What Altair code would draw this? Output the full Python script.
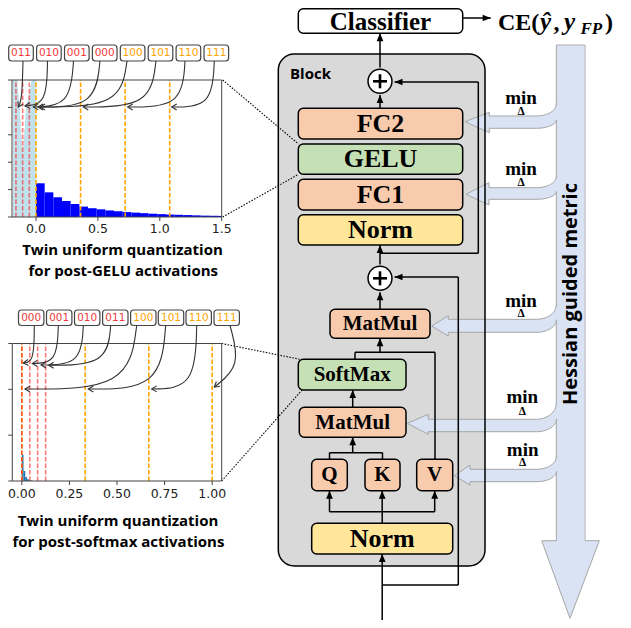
import math
import altair as alt
import numpy as np
import pandas as pd

# ======================= DATA =======================
# post-GELU activations: negative part (light blue), bins of 0.005 from -0.185
gelu_neg_start = -0.185
gelu_neg_width = 0.005
gelu_neg_density = [30, 14, 9, 7, 6, 5.4, 5.0, 4.7, 4.5, 4.3, 4.0, 3.6, 3.2, 2.9,
                    2.6, 2.45, 2.6, 2.9, 3.2, 3.5, 3.75, 3.95, 4.1, 4.25, 4.4, 4.5,
                    4.6, 4.7, 4.8, 4.95, 5.6, 6.5, 8, 10, 13, 18, 30]
# positive part (blue), bins of 0.07 from 0
gelu_pos_start = 0.0
gelu_pos_width = 0.07
gelu_pos_density = [1.23, 0.90, 0.72, 0.58, 0.47, 0.38, 0.32, 0.28, 0.24, 0.21, 0.18,
                    0.16, 0.14, 0.12, 0.105, 0.09, 0.08, 0.07, 0.06, 0.05, 0.045, 0.04]
gelu_levels_neg = [-0.162, -0.108, -0.054]
gelu_levels_pos = [0.0, 0.36, 0.72, 1.08]
gelu_xtick_values = [0.0, 0.5, 1.0, 1.5]
gelu_xtick_labels = ["0.0", "0.5", "1.0", "1.5"]
gelu_ytick_values = [0, 1, 2, 3, 4, 5]
gelu_domain_x = [-0.194, 1.5]
gelu_domain_y = [0, 5]
gelu_codes = ["011", "010", "001", "000", "100", "101", "110", "111"]
gelu_code_group = ["neg", "neg", "neg", "neg", "pos", "pos", "pos", "pos"]

# post-softmax activations, bins of 0.009 from 0
softmax_start = 0.0
softmax_width = 0.009
softmax_density = [0.57, 0.22, 0.09, 0.04, 0.02, 0.01]
softmax_levels_low = [0.0, 0.042, 0.083, 0.125]
softmax_levels_high = [0.0, 0.333, 0.667, 1.0]
softmax_xtick_values = [0.0, 0.25, 0.5, 0.75, 1.0]
softmax_xtick_labels = ["0.00", "0.25", "0.50", "0.75", "1.00"]
softmax_ytick_values = [0, 1, 2, 3]
softmax_domain_x = [-0.05, 1.05]
softmax_domain_y = [0, 3]
softmax_codes = ["000", "001", "010", "011", "100", "101", "110", "111"]
softmax_code_group = ["neg", "neg", "neg", "neg", "pos", "pos", "pos", "pos"]

module_labels = ["Classifier", "FC2", "GELU", "FC1", "Norm", "MatMul", "SoftMax",
                 "MatMul", "Q", "K", "V", "Norm"]
module_kind = ["out", "linear", "act", "linear", "norm", "linear", "act", "linear",
               "linear", "linear", "linear", "norm"]
caption_lines = ["Twin uniform quantization", "for post-GELU activations",
                 "Twin uniform quantization", "for post-softmax activations"]

# ======================= LAYOUT (pixel positions of the drawing) ===========
M = 8
W, H = 615, 612
PX = alt.Scale(domain=[0, 631], range=[-M, 631 - M], nice=False, zero=False)
PY = alt.Scale(domain=[0, 628], range=[-M, 628 - M], nice=False, zero=False)

TX = alt.Scale(domain=gelu_domain_x, range=[12 - M, 221.7 - M], nice=False, zero=False, clamp=True)
TY = alt.Scale(domain=gelu_domain_y, range=[217 - M, 80 - M], nice=False, zero=False, clamp=True)
BX = alt.Scale(domain=softmax_domain_x, range=[12.3 - M, 221.7 - M], nice=False, zero=False, clamp=True)
BY = alt.Scale(domain=softmax_domain_y, range=[481 - M, 343.5 - M], nice=False, zero=False, clamp=True)

KIND_FILL = {"out": "#ffffff", "linear": "#f8cbad", "act": "#c5e0b4", "norm": "#ffe699"}
HB_FILL = "#dae3f3"
HB_STROKE = "#a6a6a6"
RED = "#ff2020"
ORANGE = "#ffa500"

box_layout = [  # x0, x1, y0, y1, font size, text y
    (298.3, 462.7, 8.8, 33.3, 25, 21.5),
    (298.3, 462.7, 108.3, 139.0, 26, 123.9),
    (298.3, 462.7, 144.0, 174.3, 26, 159.4),
    (298.3, 462.7, 179.3, 210.0, 26, 194.9),
    (298.3, 462.7, 214.7, 245.0, 26, 230.1),
    (330.0, 430.0, 309.3, 338.3, 21, 324.0),
    (298.3, 406.0, 359.3, 390.0, 21, 374.9),
    (299.3, 406.0, 407.3, 437.3, 21, 422.5),
    (311.7, 347.3, 459.3, 490.7, 21, 475.2),
    (365.0, 400.0, 459.3, 490.7, 21, 475.2),
    (416.7, 452.7, 459.3, 490.7, 21, 475.2),
    (311.7, 452.7, 523.3, 554.0, 26, 538.9),
]

connectors = [
    (380, 67.5, 380, 33.3), (462.7, 18, 490.7, 18), (380, 108.3, 380, 95),
    (478.3, 82, 394.5, 82), (478.3, 82, 478.3, 253.3), (380, 253.3, 478.3, 253.3),
    (380, 264.5, 380, 245), (380, 309.3, 380, 292.3), (458.3, 277, 394.5, 277),
    (458.3, 277, 458.3, 585), (382.2, 585, 458.3, 585), (382.2, 628, 382.2, 554),
    (382.2, 523.3, 382.2, 511.7), (329.5, 511.7, 434.7, 511.7),
    (329.5, 511.7, 329.5, 490.7), (382.2, 511.7, 382.2, 490.7), (434.7, 511.7, 434.7, 490.7),
    (329.5, 459.3, 329.5, 452.7), (382.5, 459.3, 382.5, 452.7), (329.5, 452.7, 382.5, 452.7),
    (352.7, 452.7, 352.7, 437.3), (352.7, 407.3, 352.7, 390), (355, 359.3, 355, 352.3),
    (355, 352.3, 435, 352.3), (435, 352.3, 435, 459.3), (380, 352.3, 380, 338.3),
]
arrow_heads = [  # tip x, tip y, angle (0 = up)
    (380, 33.3, 0), (490.7, 18, 90), (380, 95, 0), (394.5, 82, 270), (380, 245, 0),
    (380, 292.3, 0), (394.5, 277, 270), (380, 338.3, 0), (352.7, 390, 0),
    (352.7, 437.3, 0), (329.5, 490.7, 0), (382.2, 490.7, 0), (434.7, 490.7, 0),
    (382.2, 554, 0),
]
plus_centers = [(380, 81.3), (380, 278.3)]
plus_r = 13.5
plus_arm = 7

hess_arrows = [  # tip x, tip y, head top, head bottom, base x, shaft top, shaft bottom, join top, join bottom
    (465.0, 121.7, 112.3, 132.7, 489.3, 116.0, 128.3, 104.0, 120.0),
    (466.0, 194.3, 182.7, 205.0, 489.0, 187.7, 199.3, 176.7, 191.7),
    (431.7, 326.0, 315.7, 336.0, 448.3, 319.3, 332.3, 305.0, 320.0),
    (407.3, 423.3, 414.3, 434.3, 428.3, 419.3, 431.7, 403.3, 419.3),
    (454.3, 475.7, 465.0, 485.0, 470.0, 469.3, 481.7, 456.7, 471.7),
]
band_left, band_right, band_top, band_end = 556.3, 585.0, 45.0, 540.7
band_head = (541.7, 599.3, 570.0, 618.3)
min_pos = [(521, 104, 114.5), (521, 175, 186), (521, 306.7, 317.3), (522.3, 403.3, 415), (522.7, 455.7, 466)]

dotted = [(222.7, 80, 298.5, 144), (222.7, 217, 298.5, 174.3),
          (221.7, 343.5, 300, 359.3), (221.7, 481, 302, 390)]

top_box_cx = [21.0, 48.9, 76.8, 104.7, 132.6, 160.5, 188.4, 216.3]
top_box_y = (45, 61)
top_half_w = 12.3
bot_box_cx = [31.2, 59.2, 87.2, 115.3, 143.3, 171, 198.7, 226.7]
bot_box_y = (310, 325.5)
bot_half_w = 12.7

top_arrow_start = [(23, 61), (47.5, 61), (73.5, 61), (100, 61), (127, 61), (156, 61), (185, 61), (214.3, 61)]
top_arrow_ctrl = [(22, 100), (46.7, 104), (70, 106), (95, 107), (120, 107), (150, 107), (182, 107), (212, 107)]
top_arrow_end = [(18.3, 107), (25, 106), (33.3, 107), (38, 107), (40, 107), (83.3, 107), (127.7, 107), (171.7, 107)]
bot_arrow_start = [(34.3, 325.5), (58.3, 325.5), (83.3, 325.5), (110.7, 325.5), (136.7, 325.5), (165.7, 325.5), (196.7, 325.5), (230, 325.5)]
bot_arrow_ctrl = [(34, 362), (57, 363), (81, 365), (107, 365), (128, 389), (160, 389), (195, 388), (241, 366)]
bot_arrow_end = [(23.3, 363), (32.3, 363.5), (41, 365), (48.7, 365.3), (25, 389), (88.3, 389), (151.7, 389), (214.3, 387)]

caption_pos = [(122.5, 249.5), (123.3, 271), (118, 520.5), (118.4, 541.5)]

ARROW = "M0,0L-0.42,1L0.42,1Z"
OPEN_HEAD = "M-1,-0.6L0,0L-1,0.6"


def ex(f, s=PX):
    return alt.X(f, type="quantitative", scale=s, axis=None)


def ey(f, s=PY):
    return alt.Y(f, type="quantitative", scale=s, axis=None)


layers = []

# ---- block background ----
block_df = pd.DataFrame({"x0": [278.3], "x1": [485], "y0": [54], "y1": [566]})
layers.append(alt.Chart(block_df).mark_rect(fill="#d9d9d9", cornerRadius=16).encode(
    x=ex("x0"), x2="x1", y=ey("y0"), y2="y1"))

# ---- Hessian band (points are sorted along y by the area mark) ----
band_df = pd.DataFrame({
    "y": [band_top, band_end, band_end + 0.01, band_head[3]],
    "xl": [band_left, band_left, band_head[0], band_head[2]],
    "xr": [band_right, band_right, band_head[1], band_head[2]],
})
layers.append(alt.Chart(band_df).mark_area(orient="horizontal", fill=HB_FILL, stroke=HB_STROKE,
                                           strokeWidth=1, opacity=1).encode(
    y=ey("y"), x=ex("xl"), x2="xr"))

rows = []
R = 20.0
for i, (tx, ty, ht, hb, bx, st, sb, jt, jb) in enumerate(hess_arrows):
    rows.append(dict(a=i, x=tx, yt=ty, yb=ty))
    rows.append(dict(a=i, x=bx, yt=ht, yb=hb))
    rows.append(dict(a=i, x=bx + 0.01, yt=st, yb=sb))
    for th in np.linspace(0, 90, 13):
        t = math.radians(th)
        rows.append(dict(a=i, x=band_left - R + R * math.sin(t),
                         yt=jt + (st - jt) * math.cos(t), yb=jb + (sb - jb) * math.cos(t)))
    rows.append(dict(a=i, x=band_left + 6, yt=jt, yb=jb))
arr_df = pd.DataFrame(rows)
layers.append(alt.Chart(arr_df).mark_area(orient="vertical", fill=HB_FILL, stroke=HB_STROKE,
                                          strokeWidth=1, opacity=1).encode(
    x=ex("x"), y=ey("yt"), y2="yb", detail="a:N"))

inner_df = pd.DataFrame({"x0": [band_left + 0.8], "x1": [band_right - 0.6],
                         "y0": [band_top + 0.7], "y1": [band_end + 1.5]})
layers.append(alt.Chart(inner_df).mark_rect(fill=HB_FILL).encode(
    x=ex("x0"), x2="x1", y=ey("y0"), y2="y1"))

# ---- block outline ----
layers.append(alt.Chart(block_df).mark_rect(fill="#d9d9d9", fillOpacity=0, stroke="black",
                                            strokeWidth=1.5, cornerRadius=16).encode(
    x=ex("x0"), x2="x1", y=ey("y0"), y2="y1"))

# ---- connectors ----
con_df = pd.DataFrame(connectors, columns=["x0", "y0", "x1", "y1"])
layers.append(alt.Chart(con_df).mark_rule(color="black", strokeWidth=1.5).encode(
    x=ex("x0"), y=ey("y0"), x2="x1", y2="y1"))

# ---- module boxes ----
box_df = pd.DataFrame(box_layout, columns=["x0", "x1", "y0", "y1", "fs", "ty"])
box_df["label"] = module_labels
box_df["fill"] = [KIND_FILL[k] for k in module_kind]
box_df["cx"] = (box_df.x0 + box_df.x1) / 2
layers.append(alt.Chart(box_df).mark_rect(stroke="black", strokeWidth=1.5, cornerRadius=5).encode(
    x=ex("x0"), x2="x1", y=ey("y0"), y2="y1", fill=alt.Fill("fill:N", scale=None)))
layers.append(alt.Chart(box_df).mark_text(font="Liberation Serif", fontWeight="bold",
                                          baseline="middle", align="center", color="black").encode(
    x=ex("cx"), y=ey("ty"), text="label:N", size=alt.Size("fs:Q", scale=None)))

# ---- plus circles ----
pc_df = pd.DataFrame(plus_centers, columns=["x", "y"])
layers.append(alt.Chart(pc_df).mark_point(shape="circle", size=math.pi * plus_r ** 2, filled=True,
                                          color="white", stroke="black", strokeWidth=1.5,
                                          opacity=1).encode(x=ex("x"), y=ey("y")))
prow = []
for (cx, cy) in plus_centers:
    prow.append((cx - plus_arm, cy, cx + plus_arm, cy))
    prow.append((cx, cy - plus_arm, cx, cy + plus_arm))
layers.append(alt.Chart(pd.DataFrame(prow, columns=["x0", "y0", "x1", "y1"])).mark_rule(
    color="black", strokeWidth=2.6).encode(x=ex("x0"), y=ey("y0"), x2="x1", y2="y1"))

# ---- black arrowheads ----
ah_df = pd.DataFrame(arrow_heads, columns=["x", "y", "ang"])
layers.append(alt.Chart(ah_df).mark_point(shape=ARROW, size=256, filled=True, color="black",
                                          opacity=1).encode(
    x=ex("x"), y=ey("y"), angle=alt.Angle("ang:Q", scale=None)))

# ---- texts on the right ----
min_df = pd.DataFrame(min_pos, columns=["x", "ym", "yd"])
min_df["t"] = "min"
min_df["d"] = "Δ"
layers.append(alt.Chart(min_df).mark_text(font="Liberation Serif", fontWeight="bold", fontSize=19,
                                          align="center", baseline="alphabetic", color="black").encode(
    x=ex("x"), y=ey("ym"), text="t:N"))
layers.append(alt.Chart(min_df).mark_text(font="Liberation Serif", fontWeight="bold", fontSize=11.5,
                                          align="center", baseline="alphabetic", color="black").encode(
    x=ex("x"), y=ey("yd"), text="d:N"))

layers.append(alt.Chart(pd.DataFrame({"x": [290], "y": [73.5], "t": ["Block"]})).mark_text(
    font="Open Sans", fontWeight="bold", fontSize=15, align="left", baseline="middle",
    color="black").encode(x=ex("x"), y=ey("y"), text="t:N"))

layers.append(alt.Chart(pd.DataFrame({"x": [571], "y": [294], "t": ["Hessian guided metric"]})).mark_text(
    font="Open Sans", fontWeight="bold", fontSize=20, align="center", baseline="middle",
    angle=270, color="black").encode(x=ex("x"), y=ey("y"), text="t:N"))

ce_norm = pd.DataFrame({"x": [498, 553.5, 605], "y": [30, 30, 30], "t": ["CE(", ",", ")"]})
layers.append(alt.Chart(ce_norm).mark_text(font="Liberation Serif", fontWeight="bold", fontSize=24,
                                           align="left", baseline="alphabetic", color="black").encode(
    x=ex("x"), y=ey("y"), text="t:N"))
ce_it = pd.DataFrame({"x": [540, 564], "y": [30, 30], "t": ["ŷ", "y"]})
layers.append(alt.Chart(ce_it).mark_text(font="Liberation Serif", fontWeight="bold", fontStyle="italic",
                                         fontSize=25, align="left", baseline="alphabetic",
                                         color="black").encode(x=ex("x"), y=ey("y"), text="t:N"))
layers.append(alt.Chart(pd.DataFrame({"x": [580.5], "y": [34], "t": ["FP"]})).mark_text(
    font="Liberation Serif", fontWeight="bold", fontStyle="italic", fontSize=17, align="left",
    baseline="alphabetic", color="black").encode(x=ex("x"), y=ey("y"), text="t:N"))

# ---- dotted zoom lines ----
layers.append(alt.Chart(pd.DataFrame(dotted, columns=["x0", "y0", "x1", "y1"])).mark_rule(
    color="black", strokeWidth=1.1, strokeDash=[1.5, 1.5]).encode(
    x=ex("x0"), y=ey("y0"), x2="x1", y2="y1"))


# ======================= histograms =======================
def hist_layers(sx, sy, bars, levels_first, levels_second, xt_vals, xt_labs, yt_vals, dom_x, dom_y,
                lab_dy):
    out = []
    for df, col in bars:
        out.append(alt.Chart(df).mark_rect(color=col, opacity=1).encode(
            x=ex("x0", sx), x2="x1", y=ey("y0", sy), y2="y1"))
    for lv, col, op in (levels_first, levels_second):
        ldf = pd.DataFrame({"v": lv, "lo": dom_y[0], "hi": dom_y[1]})
        out.append(alt.Chart(ldf).mark_rule(color=col, opacity=op, strokeWidth=1.6,
                                            strokeDash=[4.5, 2]).encode(
            x=ex("v", sx), y=ey("lo", sy), y2="hi"))
    fdf = pd.DataFrame({"x0": [dom_x[0]], "x1": [dom_x[1]], "y0": [dom_y[0]], "y1": [dom_y[1]]})
    out.append(alt.Chart(fdf).mark_rect(fill="white", fillOpacity=0, stroke="#444",
                                        strokeWidth=1).encode(
        x=ex("x0", sx), x2="x1", y=ey("y0", sy), y2="y1"))
    xdf = pd.DataFrame({"v": xt_vals, "lab": xt_labs, "z": dom_y[0]})
    out.append(alt.Chart(xdf).mark_tick(orient="vertical", size=4, thickness=1, yOffset=2,
                                        color="#444", opacity=1).encode(
        x=ex("v", sx), y=ey("z", sy)))
    out.append(alt.Chart(xdf).mark_text(font="DejaVu Sans", fontSize=12.5, dy=lab_dy,
                                        baseline="middle", align="center", color="#222").encode(
        x=ex("v", sx), y=ey("z", sy), text="lab:N"))
    ydf = pd.DataFrame({"v": yt_vals, "z": dom_x[0]})
    out.append(alt.Chart(ydf).mark_tick(orient="horizontal", size=4, thickness=1, xOffset=-2,
                                        color="#444", opacity=1).encode(
        x=ex("z", sx), y=ey("v", sy)))
    return out


gn = np.array(gelu_neg_density)
gn_x0 = gelu_neg_start + gelu_neg_width * np.arange(len(gn))
gelu_neg_df = pd.DataFrame({"x0": gn_x0, "x1": gn_x0 + gelu_neg_width, "y0": 0.0, "y1": gn})
gp = np.array(gelu_pos_density)
gp_x0 = gelu_pos_start + gelu_pos_width * np.arange(len(gp))
gelu_pos_df = pd.DataFrame({"x0": gp_x0, "x1": gp_x0 + gelu_pos_width, "y0": 0.0, "y1": gp})

layers += hist_layers(TX, TY, [(gelu_neg_df, "#add8e6"), (gelu_pos_df, "#0000ff")],
                      (gelu_levels_neg, RED, 0.6), (gelu_levels_pos, ORANGE, 1.0),
                      gelu_xtick_values, gelu_xtick_labels, gelu_ytick_values,
                      gelu_domain_x, gelu_domain_y, 11.5)

sm = np.array(softmax_density)
sm_x0 = softmax_start + softmax_width * np.arange(len(sm))
softmax_df = pd.DataFrame({"x0": sm_x0, "x1": sm_x0 + softmax_width, "y0": 0.0, "y1": sm})
layers += hist_layers(BX, BY, [(softmax_df, "#1f77b4")],
                      (softmax_levels_high, ORANGE, 1.0), (softmax_levels_low, RED, 0.6),
                      softmax_xtick_values, softmax_xtick_labels, softmax_ytick_values,
                      softmax_domain_x, softmax_domain_y, 12.5)


# ---- code labels + curved arrows ----
def code_layers(codes, groups, cxs, half_w, ys, starts, ctrls, ends):
    out = []
    bdf = pd.DataFrame({"code": codes, "grp": groups, "cx": cxs})
    bdf["x0"] = bdf.cx - half_w
    bdf["x1"] = bdf.cx + half_w
    bdf["y0"] = ys[0]
    bdf["y1"] = ys[1]
    bdf["cy"] = (ys[0] + ys[1]) / 2
    out.append(alt.Chart(bdf).mark_rect(fill="white", stroke="#444", strokeWidth=1.2,
                                        cornerRadius=3).encode(
        x=ex("x0"), x2="x1", y=ey("y0"), y2="y1"))
    out.append(alt.Chart(bdf).mark_text(font="DejaVu Sans", fontSize=10.5, baseline="middle",
                                        align="center").encode(
        x=ex("cx"), y=ey("cy"), text="code:N",
        color=alt.Color("grp:N", scale=alt.Scale(domain=["neg", "pos"], range=["#f03a3a", ORANGE]),
                        legend=None)))
    crow, hrow = [], []
    for i, (s, c, e) in enumerate(zip(starts, ctrls, ends)):
        for k, p in enumerate((s, c, e)):
            crow.append(dict(i=i, k=k, x=p[0], y=p[1]))
        ang = math.degrees(math.atan2(e[1] - c[1], e[0] - c[0])) % 360
        hrow.append(dict(x=e[0], y=e[1], ang=ang))
    out.append(alt.Chart(pd.DataFrame(crow)).mark_line(interpolate="basis", color="#333",
                                                       strokeWidth=1.1).encode(
        x=ex("x"), y=ey("y"), order="k:Q", detail="i:N"))
    out.append(alt.Chart(pd.DataFrame(hrow)).mark_point(shape=OPEN_HEAD, size=100, filled=False,
                                                        color="#333", strokeWidth=1.1,
                                                        opacity=1).encode(
        x=ex("x"), y=ey("y"), angle=alt.Angle("ang:Q", scale=None)))
    return out


layers += code_layers(gelu_codes, gelu_code_group, top_box_cx, top_half_w, top_box_y,
                      top_arrow_start, top_arrow_ctrl, top_arrow_end)
layers += code_layers(softmax_codes, softmax_code_group, bot_box_cx, bot_half_w, bot_box_y,
                      bot_arrow_start, bot_arrow_ctrl, bot_arrow_end)

# ---- captions ----
cap_df = pd.DataFrame({"t": caption_lines, "x": [p[0] for p in caption_pos],
                       "y": [p[1] for p in caption_pos]})
layers.append(alt.Chart(cap_df).mark_text(font="Open Sans", fontWeight="bold", fontSize=15,
                                          align="center", baseline="middle", color="black").encode(
    x=ex("x"), y=ey("y"), text="t:N"))

chart = alt.layer(*layers).resolve_scale(x="independent", y="independent").properties(
    width=W, height=H, padding=0, autosize=alt.AutoSizeParams(type="none"),
    background="white").configure_view(stroke=None)

chart.save("out.html", embed_options={"renderer": "svg", "actions": False})
